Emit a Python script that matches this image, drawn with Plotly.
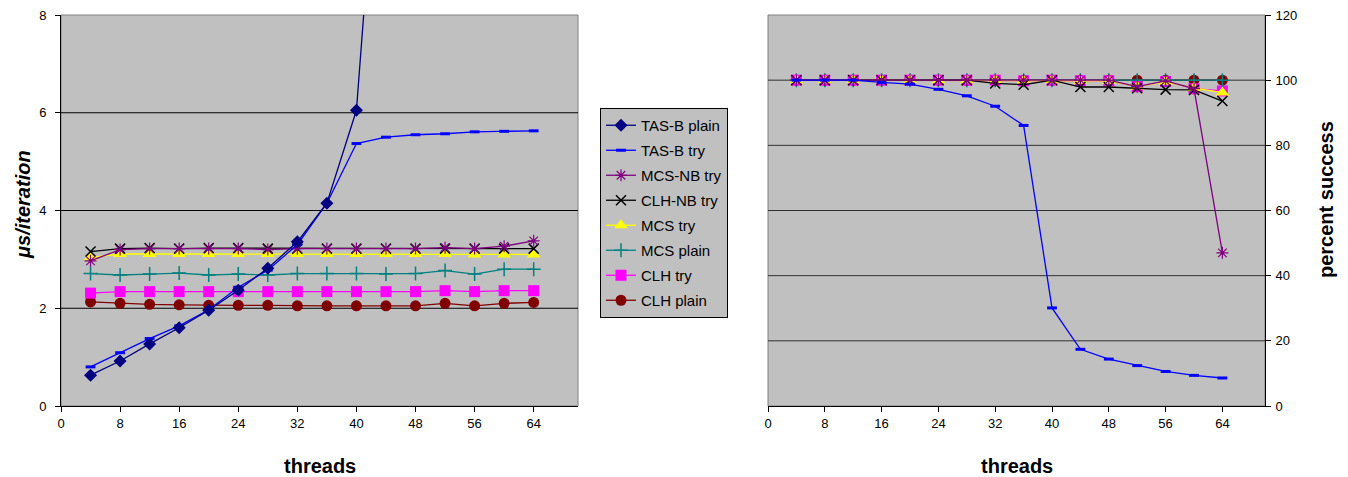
import plotly.graph_objects as go

threads = [4, 8, 12, 16, 20, 24, 28, 32, 36, 40, 44, 48, 52, 56, 60, 64]
x_ticks = [0, 8, 16, 24, 32, 40, 48, 56, 64]

# Left chart: microseconds per iteration
tasb_plain_us = [0.63, 0.92, 1.27, 1.60, 1.96, 2.37, 2.82, 3.36, 4.15, 6.05, 14.0]
tasb_try_us = [0.80, 1.09, 1.38, 1.64, 1.97, 2.43, 2.78, 3.30, 4.15, 5.37, 5.50, 5.55, 5.57, 5.61, 5.62, 5.63]
mcsnb_try_us = [2.97, 3.20, 3.22, 3.22, 3.22, 3.22, 3.20, 3.22, 3.22, 3.22, 3.22, 3.22, 3.24, 3.22, 3.27, 3.38]
clhnb_try_us = [3.16, 3.22, 3.23, 3.22, 3.23, 3.23, 3.22, 3.22, 3.22, 3.22, 3.22, 3.22, 3.22, 3.22, 3.22, 3.22]
mcs_try_us = [3.04, 3.11, 3.11, 3.11, 3.11, 3.11, 3.11, 3.11, 3.11, 3.11, 3.11, 3.11, 3.11, 3.10, 3.10, 3.10]
mcs_plain_us = [2.71, 2.68, 2.70, 2.72, 2.68, 2.70, 2.68, 2.71, 2.71, 2.71, 2.70, 2.71, 2.77, 2.70, 2.80, 2.80]
clh_try_us = [2.31, 2.34, 2.34, 2.34, 2.34, 2.34, 2.34, 2.34, 2.34, 2.34, 2.34, 2.34, 2.36, 2.34, 2.36, 2.36]
clh_plain_us = [2.13, 2.10, 2.08, 2.07, 2.06, 2.06, 2.06, 2.05, 2.05, 2.05, 2.05, 2.05, 2.10, 2.05, 2.10, 2.12]

# Right chart: percent success
tasb_try_pct = [100, 100, 100, 99.3, 98.8, 97.2, 95.2, 92.0, 86.1, 30.1, 17.4, 14.4, 12.4, 10.6, 9.4, 8.6]
mcsnb_try_pct = [100, 100, 100, 100, 100, 100, 100, 100, 100, 100, 100, 100, 98.0, 99.8, 97.4, 47.0]
clhnb_try_pct = [100, 100, 100, 100, 100, 100, 100, 99.0, 98.6, 100, 97.9, 97.9, 97.5, 97.1, 97.0, 93.6]
mcs_try_pct = [100, 100, 100, 100, 100, 100, 100, 100, 99.8, 100, 99.8, 99.8, 98.0, 99.5, 97.6, 96.2]
mcs_plain_pct = [100] * 16
clh_try_pct = [100, 100, 100, 100, 100, 100, 100, 100, 99.8, 100, 99.8, 99.8, 98.0, 99.6, 97.4, 96.7]
clh_plain_pct = [100] * 16

names = ["TAS-B plain", "TAS-B try", "MCS-NB try", "CLH-NB try", "MCS try", "MCS plain", "CLH try", "CLH plain"]
colors = ["#000080", "#0000FF", "#800080", "#000000", "#FFFF00", "#008080", "#FF00FF", "#800000"]
markers = [
    dict(symbol="diamond", size=10),
    dict(symbol="line-ew", size=7, line=dict(width=3)),
    dict(symbol="asterisk", size=10, line=dict(width=1.2)),
    dict(symbol="x-thin", size=10, line=dict(width=1.5)),
    dict(symbol="triangle-up", size=12),
    dict(symbol="cross-thin", size=10, line=dict(width=1.5)),
    dict(symbol="square", size=11),
    dict(symbol="circle", size=11),
]
left_series = [tasb_plain_us, tasb_try_us, mcsnb_try_us, clhnb_try_us, mcs_try_us, mcs_plain_us, clh_try_us, clh_plain_us]
right_series = [None, tasb_try_pct, mcsnb_try_pct, clhnb_try_pct, mcs_try_pct, mcs_plain_pct, clh_try_pct, clh_plain_pct]

fig = go.Figure()

def mk(i):
    m = dict(markers[i])
    m["color"] = colors[i]
    if "line" in m:
        m["line"] = dict(m["line"], color=colors[i])
    else:
        m["line"] = dict(width=0)
    return m

# draw in reverse so that the first series lies on top (as in the original)
for i in reversed(range(8)):
    ys = left_series[i]
    fig.add_trace(go.Scatter(
        x=threads[:len(ys)], y=ys, mode="lines+markers", name=names[i],
        line=dict(color=colors[i], width=1.3), marker=mk(i),
        xaxis="x", yaxis="y", legendgroup=names[i], legendrank=i + 1,
    ))
for i in reversed(range(8)):
    ys = right_series[i]
    if ys is None:
        continue
    fig.add_trace(go.Scatter(
        x=threads[:len(ys)], y=ys, mode="lines+markers", name=names[i],
        line=dict(color=colors[i], width=1.3), marker=mk(i),
        xaxis="x2", yaxis="y2", showlegend=False, legendgroup=names[i],
    ))

# The page body has an 8px margin, so the figure is drawn 8px right/down.
OFF = 8
W, H = 1348 - OFF, 477 - OFF

def px(p):
    return (p - OFF) / W

def py(p):
    return 1 - (p - OFF) / H

xd1 = [px(61), px(578)]
xd2 = [px(768), px(1265)]
yd = [py(406), py(15)]

FONT = "Liberation Sans, Arial, sans-serif"
tickfont = dict(family=FONT, size=13, color="black")
axis_common = dict(showgrid=False, zeroline=False, ticks="outside", ticklen=5, tickcolor="black",
                   showline=True, linecolor="black", linewidth=1, tickfont=tickfont, automargin=False,
                   ticklabeloverflow="allow")

fig.update_layout(
    width=W, height=H,
    margin=dict(l=0, r=0, t=0, b=0, autoexpand=False),
    paper_bgcolor="white",
    plot_bgcolor="#C0C0C0",
    font=tickfont,
    xaxis=dict(domain=xd1, range=[0, 70], tickvals=x_ticks, anchor="y", **axis_common),
    yaxis=dict(domain=yd, range=[0, 8], dtick=2, anchor="x", ticklabelstandoff=6, **axis_common),
    xaxis2=dict(domain=xd2, range=[0, 70], tickvals=x_ticks, anchor="y2", **axis_common),
    yaxis2=dict(domain=yd, range=[0, 120], dtick=20, anchor="x2", side="right", ticklabelstandoff=2,
                **axis_common),
    legend=dict(x=px(600), y=py(108), xanchor="left", yanchor="top",
                bgcolor="#C0C0C0", bordercolor="black", borderwidth=1,
                font=dict(family=FONT, size=15, color="black"),
                tracegroupgap=2.5, itemwidth=30),
    showlegend=True,
)

shapes = []
# plot-area borders (gray) and gridlines
for xr, yr in [("x domain", "y domain"), ("x2 domain", "y2 domain")]:
    shapes.append(dict(type="rect", xref=xr, yref=yr, x0=0, x1=1, y0=0, y1=1,
                       line=dict(color="#808080", width=1), layer="below"))
for v in [2, 4, 6]:
    shapes.append(dict(type="line", xref="x domain", yref="y", x0=0, x1=1, y0=v, y1=v,
                       line=dict(color="black", width=1), layer="below"))
for v in [20, 40, 60, 80, 100]:
    shapes.append(dict(type="line", xref="x2 domain", yref="y2", x0=0, x1=1, y0=v, y1=v,
                       line=dict(color="#303030", width=1), layer="below"))
fig.update_layout(shapes=shapes)

title_font = dict(family=FONT, size=20, color="black")
fig.update_layout(annotations=[
    dict(text="<b>threads</b>", xref="paper", yref="paper", x=(xd1[0] + xd1[1]) / 2, y=py(466),
         showarrow=False, font=title_font, xanchor="center", yanchor="middle"),
    dict(text="<b>threads</b>", xref="paper", yref="paper", x=(xd2[0] + xd2[1]) / 2, y=py(466),
         showarrow=False, font=title_font, xanchor="center", yanchor="middle"),
    dict(text="<b><i>μs/iteration</i></b>", xref="paper", yref="paper", x=px(23), y=py(205),
         showarrow=False, font=title_font, textangle=-90, xanchor="center", yanchor="middle"),
    dict(text="<b>percent success</b>", xref="paper", yref="paper", x=px(1326), y=py(200),
         showarrow=False, font=title_font, textangle=-90, xanchor="center", yanchor="middle"),
])

fig.write_html("out.html")
